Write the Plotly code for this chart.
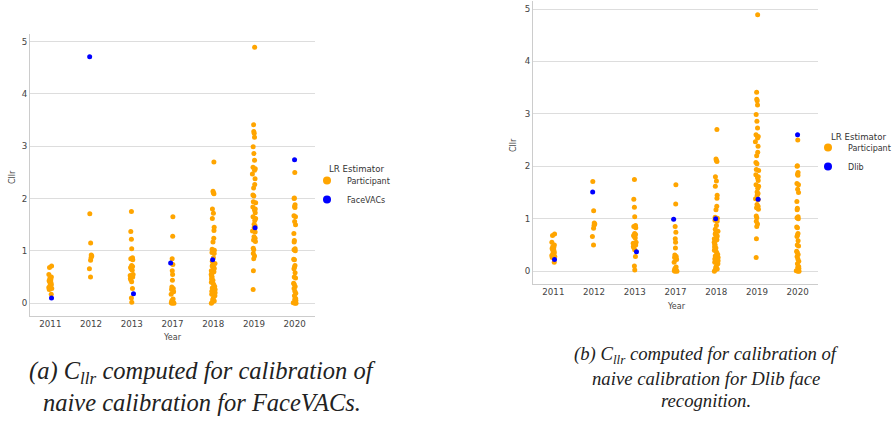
import plotly.graph_objects as go

# Categories (competition years)
years = ["2011", "2012", "2013", "2017", "2018", "2019", "2020"]

# Participant Cllr values per year
p2011 = [0.71, 0.68, 0.55, 0.50, 0.47, 0.45, 0.43, 0.41, 0.39, 0.37, 0.35, 0.33, 0.30, 0.28, 0.26, 0.17]
p2012 = [1.71, 1.15, 0.92, 0.90, 0.87, 0.82, 0.66, 0.50]
p2013 = [1.75, 1.37, 1.22, 1.04, 0.87, 0.85, 0.83, 0.72, 0.70, 0.68, 0.66, 0.63, 0.55, 0.53,
         0.50, 0.47, 0.45, 0.41, 0.28, 0.10, 0.02]
p2017 = [1.65, 1.28, 0.85, 0.74, 0.62, 0.55, 0.44, 0.31, 0.28, 0.26, 0.24, 0.22, 0.17, 0.08,
         0.06, 0.04, 0.02, 0.01, 0.00, 0.00]
p2018 = [2.70, 2.14, 2.11, 2.09, 1.80, 1.72, 1.62, 1.45, 1.39, 1.24, 1.17, 1.03, 1.01, 0.99,
         0.97, 0.95, 0.87, 0.80, 0.76, 0.73, 0.71, 0.69, 0.67, 0.65, 0.62, 0.60, 0.57, 0.55,
         0.52, 0.50, 0.46, 0.44, 0.40, 0.38, 0.35, 0.32, 0.29, 0.26, 0.23, 0.20, 0.17, 0.14,
         0.10, 0.07, 0.04, 0.02, 0.00]
p2019 = [4.89, 3.41, 3.28, 3.25, 3.17, 2.99, 2.86, 2.73, 2.60, 2.57, 2.54, 2.47, 2.38, 2.27,
         2.20, 2.07, 2.05, 1.94, 1.92, 1.84, 1.80, 1.78, 1.73, 1.65, 1.62, 1.58, 1.51, 1.48,
         1.45, 1.38, 1.36, 1.27, 1.24, 1.21, 1.18, 1.05, 1.02, 0.95, 0.90, 0.85, 0.62, 0.26]
p2020 = [2.50, 2.01, 2.00, 1.88, 1.85, 1.83, 1.67, 1.65, 1.56, 1.50, 1.33, 1.20, 1.17, 1.04,
         1.02, 1.00, 0.84, 0.83, 0.72, 0.69, 0.66, 0.58, 0.50, 0.48, 0.38, 0.36, 0.32, 0.28,
         0.23, 0.19, 0.14, 0.09, 0.07, 0.05, 0.03, 0.01, 0.00, 0.00]
participant_by_year = [p2011, p2012, p2013, p2017, p2018, p2019, p2020]

# Cllr of the automatic LR estimators, one value per year
facevacs_cllr = [0.10, 4.71, 0.18, 0.77, 0.83, 1.44, 2.74]
dlib_cllr = [0.22, 1.51, 0.37, 0.99, 1.00, 1.37, 2.60]

ORANGE = "#FFA500"
BLUE = "#0000FF"
TICK_FONT = dict(family="DejaVu Sans", size=8.7, color="#444444")

part_x = [y for y, vals in zip(years, participant_by_year) for _ in vals]
part_y = [v for vals in participant_by_year for v in vals]


def strip(x, y, color, xa, ya):
    # invisible box used only for its jittered sample points
    return go.Box(
        x=x, y=y, boxpoints="all", jitter=0.22, pointpos=0,
        fillcolor="rgba(0,0,0,0)", line=dict(color="rgba(0,0,0,0)", width=0),
        marker=dict(color=color, size=5, line=dict(width=0)),
        showlegend=False, hoveron="points", xaxis=xa, yaxis=ya,
    )


def legend_entry(name, color, xa, ya, legend):
    return go.Scatter(
        x=[None], y=[None], mode="markers", name=name,
        marker=dict(color=color, size=8), legend=legend,
        xaxis=xa, yaxis=ya, showlegend=True,
    )


fig = go.Figure()
# panel (a): FaceVACs
fig.add_trace(strip(part_x, part_y, ORANGE, "x", "y"))
fig.add_trace(strip(years, facevacs_cllr, BLUE, "x", "y"))
fig.add_trace(legend_entry("Participant", ORANGE, "x", "y", "legend"))
fig.add_trace(legend_entry("FaceVACs", BLUE, "x", "y", "legend"))
# panel (b): Dlib
fig.add_trace(strip(part_x, part_y, ORANGE, "x2", "y2"))
fig.add_trace(strip(years, dlib_cllr, BLUE, "x2", "y2"))
fig.add_trace(legend_entry("Participant", ORANGE, "x2", "y2", "legend2"))
fig.add_trace(legend_entry("Dlib", BLUE, "x2", "y2", "legend2"))

W, H = 896, 421


def xdom(a, b):
    return [a / W, b / W]


def ydom(top, bottom):
    return [1 - bottom / H, 1 - top / H]


xaxis_style = dict(
    type="category", categoryorder="array", categoryarray=years,
    range=[-0.5, 6.5], showgrid=False, zeroline=False,
    showline=True, linecolor="#cccccc", linewidth=1,
    ticks="", tickfont=TICK_FONT, fixedrange=True,
)
yaxis_style = dict(
    range=[-0.245, 5.145], tickvals=[0, 1, 2, 3, 4, 5],
    showgrid=True, gridcolor="#dddddd", gridwidth=1, zeroline=False,
    showline=True, linecolor="#cccccc", linewidth=1,
    ticks="", tickfont=TICK_FONT, fixedrange=True,
)

legend_style = dict(
    font=dict(family="DejaVu Sans", size=8, color="#333333"),
    bgcolor="rgba(0,0,0,0)", borderwidth=0,
    xanchor="left", yanchor="middle", itemsizing="trace",
    tracegroupgap=0,
)

axis_title_font = dict(family="DejaVu Sans", size=8, color="#444444")
legend_title_font = dict(family="DejaVu Sans", size=8.6, color="#333333")
SERIF = "Liberation Serif, Times New Roman, serif"
cap_font = dict(family=SERIF, size=24.5, color="#222222", style="italic")
cap_font_b = dict(family=SERIF, size=18.7, color="#222222", style="italic")


def ann(text, x, y, font, angle=0, xanchor="center"):
    return dict(text=text, x=x / W, y=1 - y / H, xref="paper", yref="paper",
                showarrow=False, font=font, xanchor=xanchor, yanchor="middle",
                textangle=angle)


annotations = [
    ann("Cllr", 12, 177, axis_title_font, -90),
    ann("Year", 172, 337, axis_title_font),
    ann("Cllr", 513, 145, axis_title_font, -90),
    ann("Year", 676, 306, axis_title_font),
    ann("LR Estimator", 327, 169, legend_title_font, xanchor="left"),
    ann("LR Estimator", 829, 137, legend_title_font, xanchor="left"),
    ann("(a) C<sub>llr</sub> computed for calibration of", 202, 372, cap_font),
    ann("naive calibration for FaceVACs.", 202, 402, cap_font),
    ann("(b) C<sub>llr</sub> computed for calibration of", 706, 355, cap_font_b),
    ann("naive calibration for Dlib face", 706, 378, cap_font_b),
    ann("recognition.", 706, 400, cap_font_b),
]

fig.update_layout(
    width=W, height=H, margin=dict(l=0, r=0, t=0, b=0, autoexpand=False),
    paper_bgcolor="white", plot_bgcolor="white",
    boxmode="overlay",
    xaxis=dict(domain=xdom(30, 315), anchor="y", **xaxis_style),
    yaxis=dict(domain=ydom(34, 316), anchor="x", **yaxis_style),
    xaxis2=dict(domain=xdom(533, 818), anchor="y2", **xaxis_style),
    yaxis2=dict(domain=ydom(1.4, 284), anchor="x2", **yaxis_style),
    legend=dict(x=307 / W, y=1 - 190 / H, **legend_style),
    legend2=dict(x=808 / W, y=1 - 157 / H, **legend_style),
    annotations=annotations,
)

fig.write_html("out.html")
